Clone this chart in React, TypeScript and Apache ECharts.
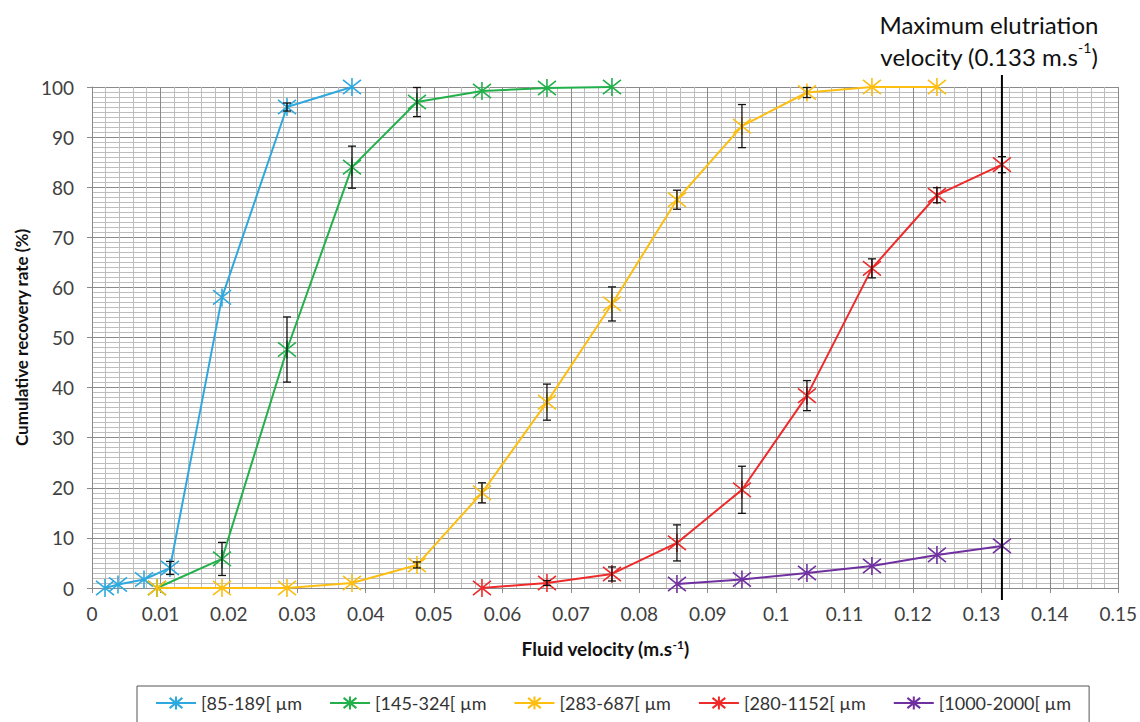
import React, { useEffect, useRef } from "react";
import * as echarts from "echarts";

const seriesNames = ["[85-189[ µm", "[145-324[ µm", "[283-687[ µm", "[280-1152[ µm", "[1000-2000[ µm"];
const colors = ["#2EA9DF", "#22B04B", "#FDBE12", "#EE2A2A", "#7030A0"];

// [x, y, err]
const blue: number[][] = [
  [0.0019, 0, 0], [0.0038, 0.7, 0], [0.0076, 1.7, 0], [0.0114, 4, 1.3],
  [0.019, 58, 0], [0.0285, 96, 0.8], [0.038, 100, 0],
];
const green: number[][] = [
  [0.0095, 0, 0], [0.019, 5.8, 3.3], [0.0285, 47.6, 6.5], [0.038, 84, 4.2],
  [0.0475, 97, 2.9], [0.057, 99.2, 0], [0.0665, 99.8, 0], [0.076, 100, 0],
];
const yellow: number[][] = [
  [0.0095, 0, 0], [0.019, 0, 0], [0.0285, 0, 0], [0.038, 1, 0], [0.0475, 4.6, 0.6],
  [0.057, 19, 2], [0.0665, 37.1, 3.6], [0.076, 56.7, 3.4], [0.0855, 77.5, 1.9],
  [0.095, 92.2, 4.3], [0.1045, 98.9, 1], [0.114, 100, 0], [0.1235, 100, 0],
];
const red: number[][] = [
  [0.057, 0, 0], [0.0665, 1, 0.5], [0.076, 2.8, 1.4], [0.0855, 9, 3.6],
  [0.095, 19.6, 4.7], [0.1045, 38.4, 3], [0.114, 63.8, 1.9], [0.1235, 78.4, 1.5],
  [0.133, 84.5, 1.6],
];
const purple: number[][] = [
  [0.0855, 0.8, 0], [0.095, 1.7, 0], [0.1045, 3, 0], [0.114, 4.4, 0],
  [0.1235, 6.6, 0], [0.133, 8.4, 0],
];
const allSeries = [blue, green, yellow, red, purple];
const maxVelocity = 0.133;

const STAR = "path://M0,-10L0,10M-10,-8L10,8M-10,8L10,-8";
const FONT = "Lato";

export default function App() {
  const ref = useRef<HTMLDivElement>(null);
  useEffect(() => {
    if (!ref.current) return;
    const chart = echarts.init(ref.current, null, { renderer: "svg" });

    const lineSeries = allSeries.map((d, i) => ({
      name: seriesNames[i],
      type: "line",
      data: d.map((p) => [p[0], p[1]]),
      symbol: STAR,
      symbolSize: 18,
      lineStyle: { color: colors[i], width: 2 },
      itemStyle: { color: colors[i], borderColor: colors[i], borderWidth: 1.6 },
      z: 3,
    }));

    const errData: number[][] = [];
    allSeries.forEach((d) =>
      d.forEach((p) => {
        if (p[2] > 0) errData.push([p[0], p[1] - p[2], p[1] + p[2]]);
      })
    );

    const errSeries = {
      type: "custom",
      name: "err",
      data: errData,
      z: 4,
      silent: true,
      renderItem: (params: any, api: any) => {
        const x = api.value(0);
        const lo = api.coord([x, api.value(1)]);
        const hi = api.coord([x, api.value(2)]);
        const w = 4;
        const style = { stroke: "#111", lineWidth: 1.3 };
        return {
          type: "group",
          children: [
            { type: "line", shape: { x1: lo[0], y1: lo[1], x2: hi[0], y2: hi[1] }, style },
            { type: "line", shape: { x1: lo[0] - w, y1: lo[1], x2: lo[0] + w, y2: lo[1] }, style },
            { type: "line", shape: { x1: hi[0] - w, y1: hi[1], x2: hi[0] + w, y2: hi[1] }, style },
          ],
        };
      },
    };

    const labelStyle = { color: "#404040", fontSize: 19, fontFamily: FONT };
    chart.setOption({
      animation: false,
      textStyle: { fontFamily: FONT },
      grid: { left: 92, right: 18, top: 87, bottom: 134, containLabel: false },
      xAxis: {
        type: "value",
        min: 0,
        max: 0.15,
        interval: 0.01,
        minorTick: { show: false, splitNumber: 5 },
        axisLine: { show: true, lineStyle: { color: "#8a8a8a" } },
        axisTick: { show: true, length: 5, lineStyle: { color: "#8a8a8a" } },
        axisLabel: { ...labelStyle, margin: 16, formatter: (v: number) => String(+v.toFixed(2)) },
        splitLine: { show: true, lineStyle: { color: "#8a8a8a", width: 1 } },
        minorSplitLine: { show: true, lineStyle: { color: "#bdbdbd", width: 1 } },
        name: "{b|Fluid velocity (m.s}{s|-1}{b|)}",
        nameLocation: "middle",
        nameGap: 50,
        nameTextStyle: {
          rich: {
            b: { fontSize: 19, fontWeight: "bold", color: "#111", fontFamily: FONT },
            s: { fontSize: 12, fontWeight: "bold", color: "#111", fontFamily: FONT, verticalAlign: "top", padding: [0, 0, 9, 0] },
          },
        },
      },
      yAxis: {
        type: "value",
        min: 0,
        max: 100,
        interval: 10,
        minorTick: { show: false, splitNumber: 10 },
        axisLine: { show: true, lineStyle: { color: "#8a8a8a" } },
        axisTick: { show: true, length: 5, lineStyle: { color: "#8a8a8a" } },
        axisLabel: { ...labelStyle, margin: 18 },
        splitLine: { show: true, lineStyle: { color: "#8a8a8a", width: 1 } },
        minorSplitLine: { show: true, lineStyle: { color: "#bdbdbd", width: 1 } },
        name: "Cumulative recovery rate (%)",
        nameLocation: "middle",
        nameGap: 62,
        nameTextStyle: { fontSize: 17, fontWeight: "bold", color: "#111", fontFamily: FONT },
      },
      legend: {
        data: seriesNames,
        top: 686,
        left: 137,
        width: 1000,
        borderColor: "#555",
        borderWidth: 1,
        padding: [8, 18, 12, 18],
        itemGap: 27,
        itemWidth: 40,
        itemHeight: 16,
        textStyle: { fontSize: 18, color: "#333", fontFamily: FONT },
      },
      series: [...lineSeries, errSeries],
    });

    const px = chart.convertToPixel({ xAxisIndex: 0 }, maxVelocity) as number;
    const top = chart.convertToPixel({ yAxisIndex: 0 }, 100) as number;
    const bot = chart.convertToPixel({ yAxisIndex: 0 }, 0) as number;
    chart.setOption({
      graphic: [
        {
          type: "line",
          shape: { x1: px, y1: top - 12, x2: px, y2: bot + 12 },
          style: { stroke: "#000", lineWidth: 2 },
          z: 10,
        },
        {
          type: "text",
          x: px - 13,
          y: 8,
          style: {
            text: "{a|Maximum elutriation}\n{a|velocity (0.133 m.s}{s|-1}{a|)}",
            align: "center",
            rich: {
              a: { fontSize: 24, fill: "#111", fontFamily: FONT, lineHeight: 32 },
              s: { fontSize: 14, fill: "#111", fontFamily: FONT, verticalAlign: "top", lineHeight: 32, padding: [0, 0, 12, 0] },
            },
          },
        },
      ],
    });

    return () => chart.dispose();
  }, []);
  return <div ref={ref} style={{ width: 1140, height: 722, position: "absolute", left: 0, top: 0 }} />;
}
